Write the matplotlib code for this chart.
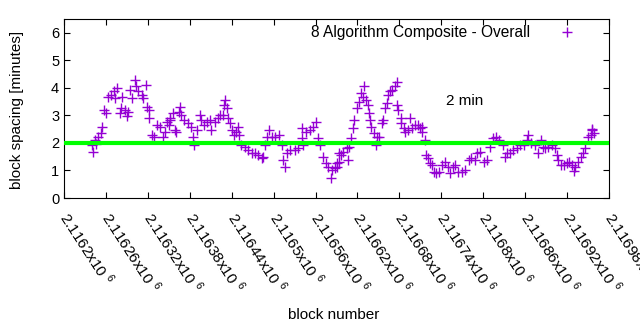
import matplotlib
matplotlib.use("Agg")
import matplotlib.pyplot as plt
from matplotlib.ticker import FuncFormatter, MultipleLocator

plt.rcParams["font.family"] = ["Liberation Sans", "DejaVu Sans"]
plt.rcParams["mathtext.fontset"] = "custom"
plt.rcParams["mathtext.rm"] = "Liberation Sans"

# Block number vs. block spacing (minutes)
block = [
    2116240, 2116241, 2116244, 2116246, 2116249, 2116253, 2116254, 2116257, 2116260, 2116263,
    2116267, 2116271, 2116273, 2116276, 2116280, 2116282, 2116283, 2116287, 2116290, 2116292,
    2116294, 2116298, 2116302, 2116303, 2116306, 2116311, 2116313, 2116318, 2116319, 2116321,
    2116322, 2116326, 2116329, 2116333, 2116337, 2116341, 2116345, 2116348, 2116350, 2116351,
    2116352, 2116356, 2116359, 2116361, 2116364, 2116366, 2116368, 2116372, 2116377, 2116382,
    2116385, 2116386, 2116390, 2116395, 2116396, 2116401, 2116404, 2116409, 2116411, 2116416,
    2116420, 2116423, 2116428, 2116429, 2116431, 2116433, 2116435, 2116438, 2116440, 2116444,
    2116446, 2116449, 2116450, 2116454, 2116459, 2116464, 2116469, 2116473, 2116478, 2116483,
    2116485, 2116488, 2116490, 2116494, 2116497, 2116502, 2116507, 2116512, 2116514, 2116516,
    2116519, 2116523, 2116531, 2116535, 2116540, 2116541, 2116542, 2116547, 2116552, 2116557,
    2116560, 2116564, 2116567, 2116571, 2116575, 2116578, 2116582, 2116583, 2116588, 2116590,
    2116591, 2116593, 2116594, 2116596, 2116600, 2116605, 2116607, 2116608, 2116611, 2116613,
    2116615, 2116619, 2116622, 2116625, 2116628, 2116630, 2116632, 2116635, 2116637, 2116638,
    2116640, 2116644, 2116647, 2116648, 2116651, 2116655, 2116657, 2116659, 2116662, 2116664,
    2116667, 2116670, 2116673, 2116676, 2116677, 2116678, 2116682, 2116683, 2116686, 2116688,
    2116693, 2116695, 2116698, 2116702, 2116707, 2116710, 2116712, 2116713, 2116717, 2116718,
    2116721, 2116724, 2116726, 2116730, 2116733, 2116737, 2116741, 2116745, 2116749, 2116752,
    2116756, 2116760, 2116764, 2116769, 2116774, 2116779, 2116783, 2116788, 2116791, 2116796,
    2116801, 2116805, 2116810, 2116814, 2116818, 2116823, 2116828, 2116831, 2116834, 2116838,
    2116843, 2116848, 2116853, 2116859, 2116862, 2116864, 2116869, 2116874, 2116878, 2116883,
    2116885, 2116888, 2116893, 2116898, 2116903, 2116905, 2116907, 2116911, 2116915, 2116920,
    2116923, 2116927, 2116930, 2116932, 2116936, 2116940, 2116943, 2116946, 2116950, 2116954,
    2116955, 2116956, 2116958,
]
spacing = [
    1.93, 1.68, 2.11, 1.95, 2.23, 2.36, 2.59, 3.20, 3.09, 3.68,
    3.75, 3.87, 3.63, 3.99, 3.08, 3.26, 3.68, 3.20, 2.96, 3.14,
    3.93, 3.63, 4.29, 4.05, 3.87, 3.75, 3.63, 4.11, 3.32, 3.20,
    2.90, 2.29, 2.23, 2.65, 2.59, 2.23, 2.41, 2.77, 2.65, 2.90,
    2.84, 3.08, 2.47, 2.41, 3.14, 3.32, 3.02, 2.84, 2.72, 2.59,
    2.23, 1.93, 2.47, 3.02, 2.84, 2.65, 2.77, 2.84, 2.47, 2.77,
    2.90, 3.02, 3.02, 3.38, 3.56, 3.26, 2.90, 2.72, 2.47, 2.29,
    2.41, 2.59, 2.29, 1.93, 1.87, 1.75, 1.65, 1.62, 1.56, 1.44,
    1.50, 1.93, 2.23, 2.47, 2.23, 2.23, 2.29, 1.93, 1.38, 1.14,
    1.62, 1.75, 1.75, 1.81, 2.17, 2.54, 1.93, 2.41, 2.47, 2.59,
    2.77, 2.17, 1.93, 1.50, 1.26, 1.14, 0.72, 1.02, 1.08, 1.14,
    1.26, 1.32, 1.62, 1.56, 1.68, 1.81, 1.38, 1.87, 2.17, 2.54,
    2.84, 3.26, 3.50, 3.81, 3.68, 4.05, 3.56, 3.38, 3.08, 2.84,
    2.59, 2.35, 1.93, 2.23, 2.23, 2.72, 2.84, 3.26, 3.44, 3.75,
    3.87, 3.93, 4.05, 4.23, 3.38, 3.20, 2.90, 2.72, 2.54, 2.41,
    2.47, 2.90, 2.54, 2.65, 2.65, 2.54, 2.59, 2.41, 2.10, 1.56,
    1.44, 1.26, 1.20, 0.96, 0.90, 0.96, 1.20, 1.32, 1.14, 0.90,
    1.14, 1.20, 0.96, 0.96, 1.02, 1.38, 1.44, 1.38, 1.62, 1.66,
    1.32, 1.38, 1.87, 2.17, 2.23, 2.11, 1.93, 1.50, 1.62, 1.62,
    1.75, 1.81, 1.93, 1.93, 2.11, 2.29, 1.99, 1.93, 1.62, 2.11,
    1.87, 1.81, 1.87, 1.93, 1.81, 1.56, 1.38, 1.20, 1.20, 1.26,
    1.32, 1.20, 0.98, 1.14, 1.32, 1.50, 1.62, 1.81, 2.23, 2.29,
    2.51, 2.47, 2.35,
]
target = 2  # minutes
x_range = (2116200, 2116980)
x_step = 60
y_ticks = [0, 1, 2, 3, 4, 5, 6]

fig = plt.figure(figsize=(6.4, 3.3), dpi=100)
ax = fig.add_axes([0.1, 0.4, 0.8516, 0.5424])

ax.plot(block, spacing, linestyle="none", marker="+", markersize=6.5,
        markeredgewidth=1.0, color="#9400d3",
        label="8 Algorithm Composite - Overall", zorder=3)
ax.axhline(target, color="#00ff00", linewidth=3, zorder=4)
ax.text(2116774, 3.53, f"{target} min", ha="center", va="center", fontsize=11)

ax.set_xlim(*x_range)
ax.set_ylim(0, 6.5)
ax.set_yticks(y_ticks)
ax.xaxis.set_major_locator(MultipleLocator(x_step))
ax.xaxis.set_major_formatter(FuncFormatter(lambda v, p: f"{v / 1e6:g}x10 $^{{6}}$"))
ax.tick_params(direction="in", top=True, right=True, length=4, labelsize=10.5)
ax.tick_params(axis="x", labelsize=11, pad=11)
for lbl in ax.get_xticklabels():
    lbl.set_rotation(-57)
    lbl.set_ha("left")
    lbl.set_va("center")
    lbl.set_rotation_mode("anchor")

leg = ax.legend(loc="center right", bbox_to_anchor=(0.952, 0.9235),
                frameon=False, markerfirst=False, borderpad=0,
                borderaxespad=0, handletextpad=1.4, fontsize=11.2)

fig.text(0.026, 0.667, "block spacing [minutes]", rotation=90,
         ha="center", va="center", fontsize=11)
fig.text(0.522, 0.045, "block number", ha="center", va="center", fontsize=11)

fig.savefig("out.png", dpi=100)
